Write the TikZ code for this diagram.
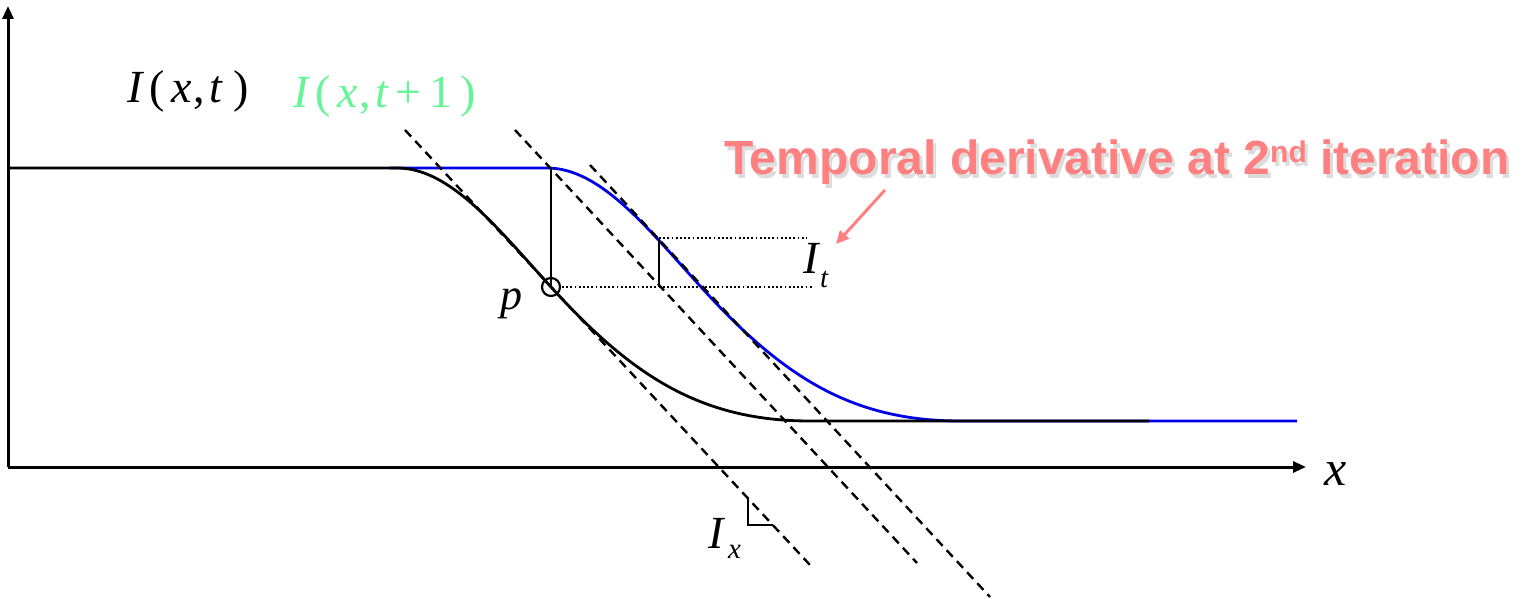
\documentclass[tikz,border=0pt]{standalone}
\usepackage{fontspec}
\setmainfont{Liberation Serif}
\newfontfamily\labelsans{Liberation Sans}
\usetikzlibrary{arrows.meta}
\definecolor{curveblue}{RGB}{0,0,230}
\definecolor{lightgreen}{RGB}{100,245,150}
\definecolor{salmon}{RGB}{255,128,128}
\tikzset{
  curve/.style={line width=2.8pt, line join=round},
  axisline/.style={line width=3pt, -{Triangle[width=11pt,length=13pt]}},
  tangent/.style={line width=2.4pt, dash pattern=on 9pt off 6pt},
  guide/.style={line width=1.8pt, dash pattern=on 1.8pt off 2.4pt},
  mlabel/.style={inner sep=0pt, anchor=base west, font=\fontsize{46}{46}\selectfont},
  sublabel/.style={inner sep=0pt, anchor=base west, font=\fontsize{29}{29}\selectfont\itshape},
  notelabel/.style={inner sep=0pt, anchor=base west, font=\labelsans\bfseries\fontsize{48}{48}\selectfont}
}
\begin{document}
\begin{tikzpicture}[x=1pt,y=-1pt]
\useasboundingbox (0,0) rectangle (1523,599);
% coordinates
\coordinate (origin) at (8,467);
\coordinate (ytop) at (8,6);
\coordinate (xend) at (1306,467);
\coordinate (p) at (551,287);
\coordinate (q) at (551,168);
\coordinate (r) at (659,287);
\coordinate (s) at (659,239);
% axes
\draw[axisline] (origin) -- (ytop);
\draw[axisline] (origin) -- (xend);
\node[mlabel, font=\fontsize{50}{50}\selectfont\itshape] (xlab) at (1324,485) {x};
% blue curve I(x,t+1) (the black curve moved 150 to the right)
\draw[curve, curveblue] (390,168) -- (547,168) .. controls (600,168) and (646,226.5) .. (701,287)
  .. controls (781,375) and (850,421) .. (960,421) -- (1297,421);
% black curve I(x,t)
\draw[curve] (9,168) -- (397,168) .. controls (450,168) and (496,226.5) .. (p)
  .. controls (631,375) and (700,421) .. (810,421) -- (1149,421);
% tangent lines
\draw[tangent] (405,130) -- (810,565);
\draw[tangent] (515,130) -- (917,563);
\draw[tangent] (590,165) -- (990,597);
% right angle mark
\draw[line width=2.2pt] (748,498) -- (748,525) -- (773,525);
% verticals and guides
\draw[line width=2.4pt] (q) -- (p);
\draw[line width=2.4pt] (s) -- (r);
\draw[guide] (659,238) -- (807,238);
\draw[guide] (562,287) -- (813,287);
\draw[line width=2.2pt] (p) circle (9);
% labels
\node[mlabel] (Ixt) at (127,103) {\textit{I}\kern5pt(\kern7pt\textit{x}\kern1pt,\kern5pt\textit{t}\kern10pt)};
\node[mlabel, text=lightgreen] (Ixt1) at (293,108) {\textit{I}\kern5pt(\kern7pt\textit{x}\kern1pt,\kern5pt\textit{t}\kern6pt+\kern8pt1\kern8pt)};
\node[mlabel, font=\fontsize{44}{44}\selectfont\itshape] (plab) at (500,309) {p};
\node[mlabel, font=\fontsize{46}{46}\selectfont\itshape] (It) at (803,273) {I};
\node[sublabel] (Itsub) at (820,287) {t};
\node[mlabel, font=\fontsize{46}{46}\selectfont\itshape] (Ix) at (708,548) {I};
\node[sublabel] (Ixsub) at (728,558) {x};
% note
\node[notelabel, text=black!30, opacity=0.45] at (727,178) {Temporal derivative at 2\raisebox{12pt}{\fontsize{30}{30}\selectfont nd} iteration};
\node[notelabel, text=salmon] (note) at (724,175) {Temporal derivative at 2\raisebox{12pt}{\fontsize{30}{30}\selectfont nd} iteration};
\coordinate (atail) at (885,190);
\coordinate (ahead) at (836,244);
\draw[salmon, line width=3pt, -{Triangle[width=12pt,length=13pt]}] (atail) -- (ahead);
\end{tikzpicture}
\end{document}
